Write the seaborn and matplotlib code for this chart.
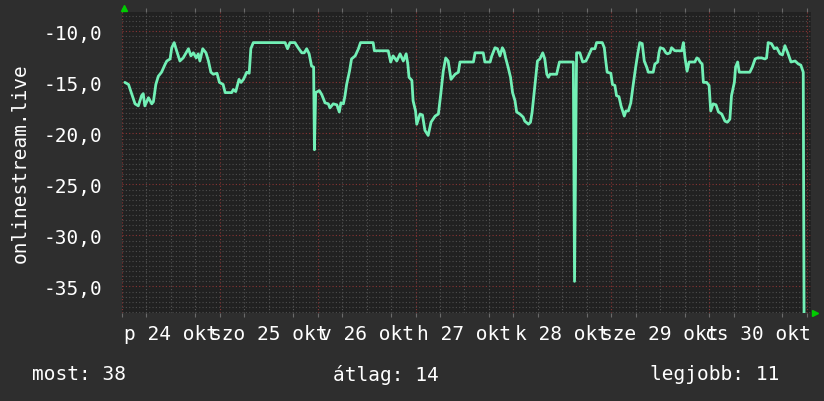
import numpy as np
import pandas as pd
import matplotlib
matplotlib.use('Agg')
import matplotlib.pyplot as plt
import seaborn as sns

# hours since 24 okt 00:00, rank shown as negative value
hours = [0.7, 1.6, 3.2, 4.0, 4.8, 5.2, 5.6, 6.5, 7.3, 7.7, 8.3, 8.9, 9.7, 10.6, 11.0, 11.8,
         12.2, 12.8, 13.4, 14.2, 15.0, 16.3, 16.9, 17.5, 18.2, 18.7, 19.1, 19.8, 20.6, 21.2,
         21.8, 22.4, 23.3, 23.9, 24.8, 25.3, 26.9, 27.3, 27.9, 28.7, 29.2, 29.8, 30.6, 31.2,
         31.6, 32.2, 40.0, 40.6, 41.2, 42.4, 43.2, 44.1, 44.7, 45.3, 45.9, 46.5, 47.0, 47.2,
         47.5, 48.4, 49.0, 49.8, 50.6, 51.0, 51.8, 52.7, 53.3, 53.7, 54.3, 54.7, 55.1, 55.8,
         56.3, 57.2, 58.0, 58.5, 61.6, 61.9, 65.3, 65.9, 66.5, 67.4, 68.2, 69.0, 69.7, 70.1,
         70.4, 71.1, 71.4, 72.0, 72.3, 73.1, 73.7, 74.3, 75.1, 75.8, 76.8, 77.6, 78.2, 78.8,
         79.4, 80.0, 80.7, 81.7, 82.5, 82.9, 86.2, 86.6, 88.6, 89.0, 90.3, 90.7, 91.5, 92.1,
         92.7, 93.3, 93.7, 94.1, 94.7, 95.3, 95.8, 96.4, 96.8, 97.6, 98.4, 98.8, 99.7, 100.2,
         100.6, 101.1, 101.9, 102.5, 103.2, 103.7, 104.2, 104.6, 105.0, 106.6, 107.3, 110.7,
         111.0, 111.5, 112.3, 113.0, 113.8, 114.4, 115.2, 116.0, 116.4, 117.8, 118.3, 118.6,
         119.0, 119.9, 120.3, 120.9, 121.3, 121.9, 122.4, 123.2, 123.6, 124.2, 124.8, 125.4,
         126.0, 126.5, 127.0, 127.6, 128.1, 128.7, 129.1, 130.3, 130.7, 131.4, 131.7, 132.0,
         132.8, 133.4, 133.8, 134.4, 134.8, 135.6, 137.3, 137.7, 138.1, 138.6, 139.1, 140.5,
         141.0, 141.4, 141.8, 142.3, 142.6, 143.4, 144.0, 144.4, 145.0, 145.7, 146.3, 147.1,
         147.9, 148.5, 149.1, 149.5, 150.2, 150.5, 151.0, 151.4, 154.0, 154.6, 155.3, 155.9,
         156.9, 157.7, 158.1, 158.5, 159.3, 160.0, 160.6, 161.4, 162.0, 162.6, 163.3, 164.1,
         165.1, 165.9, 166.5, 167.1, 167.3]
rank = [-15.0, -15.2, -17.1, -17.3, -16.3, -16.1, -17.3, -16.5, -17.1, -16.9, -15.2, -14.4,
        -14.0, -13.2, -12.9, -12.7, -11.6, -11.1, -11.9, -12.9, -12.6, -11.7, -12.4, -12.1,
        -12.6, -12.2, -12.9, -11.7, -12.1, -12.9, -14.0, -14.2, -14.1, -15.0, -15.2, -16.0,
        -16.0, -15.7, -15.9, -14.7, -15.0, -14.7, -14.0, -14.1, -11.7, -11.1, -11.1, -11.7,
        -11.1, -11.1, -11.6, -12.1, -12.1, -11.7, -12.2, -13.4, -13.5, -21.6, -16.0, -15.8,
        -16.2, -17.0, -17.1, -17.5, -17.1, -17.2, -17.9, -17.0, -17.1, -16.3, -15.2, -13.9,
        -12.7, -12.4, -11.7, -11.1, -11.1, -11.9, -11.9, -13.0, -12.4, -12.9, -12.2, -12.9,
        -12.2, -13.2, -14.5, -14.8, -16.8, -17.8, -19.1, -18.1, -18.2, -19.7, -20.2, -18.9,
        -18.3, -18.1, -16.1, -13.9, -12.6, -12.9, -14.7, -14.2, -14.0, -13.0, -13.0, -12.1,
        -12.1, -13.0, -13.0, -12.4, -11.6, -11.7, -12.4, -11.6, -11.9, -12.6, -13.5, -14.5,
        -16.0, -16.8, -17.9, -18.1, -18.4, -18.8, -19.1, -18.9, -17.9, -16.0, -12.9, -12.7,
        -12.1, -12.7, -14.2, -14.5, -14.2, -14.2, -13.0, -13.0, -34.5, -12.1, -12.1, -13.0,
        -12.9, -12.4, -11.7, -11.7, -11.1, -11.1, -11.6, -12.7, -14.0, -14.1, -15.2, -15.3,
        -16.3, -16.4, -17.3, -18.3, -17.8, -17.8, -17.0, -15.2, -13.5, -12.2, -11.1, -11.2,
        -12.9, -13.5, -14.0, -14.0, -13.2, -13.0, -12.1, -11.6, -11.7, -12.1, -12.2, -12.1,
        -11.6, -11.9, -11.9, -11.1, -12.6, -13.9, -13.0, -13.0, -12.6, -12.7, -13.0, -13.2,
        -15.0, -15.0, -15.3, -17.8, -17.1, -17.2, -17.9, -18.1, -18.8, -18.9, -18.6, -16.3,
        -15.0, -13.5, -13.0, -14.0, -14.0, -13.5, -12.7, -12.6, -12.6, -12.7, -12.6, -11.1,
        -11.2, -11.7, -11.6, -12.2, -12.3, -11.4, -12.1, -13.0, -12.9, -13.2, -13.3, -14.0,
        -38.0]

day_labels = ['p 24 okt', 'szo 25 okt', 'v 26 okt', 'h 27 okt', 'k 28 okt', 'sze 29 okt', 'cs 30 okt']
y_ticks = [-10, -15, -20, -25, -30, -35]
summary = ['most: 38', 'átlag: 14', 'legjobb: 11']

df = pd.DataFrame({'hour': hours, 'rank': rank})

sns.set_style('dark')
plt.rcParams['font.family'] = ['DejaVu Sans Mono']

fig = plt.figure(figsize=(8.24, 4.02), dpi=100, facecolor='#2e2e2e')
ax = fig.add_axes([122 / 824, 1 - 314 / 402, 689 / 824, 301 / 402])
ax.set_facecolor('#212121')

# grid
for y in np.arange(-37.5, -8, 0.5):
    if y % 5 != 0:
        ax.axhline(y, color='#4d4d4d', lw=0.8, ls=(0, (1, 2)), zorder=1)
for y in y_ticks:
    ax.axhline(y, color='#8a3434', lw=0.8, ls=(0, (1, 2)), zorder=1)
for x in np.arange(0, 169, 6):
    if x % 24 != 0:
        ax.axvline(x, color='#555555', lw=0.8, ls=(0, (1, 2)), zorder=1)
for x in range(0, 169, 24):
    ax.axvline(x, color='#8a3434', lw=0.8, ls=(0, (1, 2)), zorder=1)

sns.lineplot(data=df, x='hour', y='rank', ax=ax, color='#72f0b6', lw=2,
             estimator=None, sort=False, zorder=3)

ax.set_xlim(0, 169)
ax.set_ylim(-37.6, -8.1)
ax.set_yticks(y_ticks)
ax.set_yticklabels([('%.1f' % v).replace('.', ',') for v in y_ticks])
ax.set_xticks(np.arange(12, 168, 24))
ax.set_xticklabels(day_labels)
ax.tick_params(colors='white', labelsize=14, length=0, pad=8)
ax.tick_params(axis='y', pad=14)
# small gray tick marks on top and bottom edges every 6 hours
ax.set_xticks(np.arange(0, 169, 6), minor=True)
ax.tick_params(axis='x', which='minor', length=3, width=0.8, color='#6a6a6a',
               direction='out', top=True, bottom=True)
ax.set_xlabel('')
ax.set_ylabel('onlinestream.live', color='white', fontsize=14, labelpad=10)
for s in ax.spines.values():
    s.set_visible(False)

# arrows at axis ends
ax.plot([0.003], [1.012], marker='^', color='#00cc00', ms=5, transform=ax.transAxes, clip_on=False)
ax.plot([1.006], [0.0], marker='>', color='#00cc00', ms=5, transform=ax.transAxes, clip_on=False)

xs = [32, 333, 650]
for x, t in zip(xs, summary):
    fig.text(x / 824, 1 - 375 / 402, t, color='white', fontsize=14, va='center', ha='left')

fig.savefig('out.png', dpi=100, facecolor=fig.get_facecolor())
